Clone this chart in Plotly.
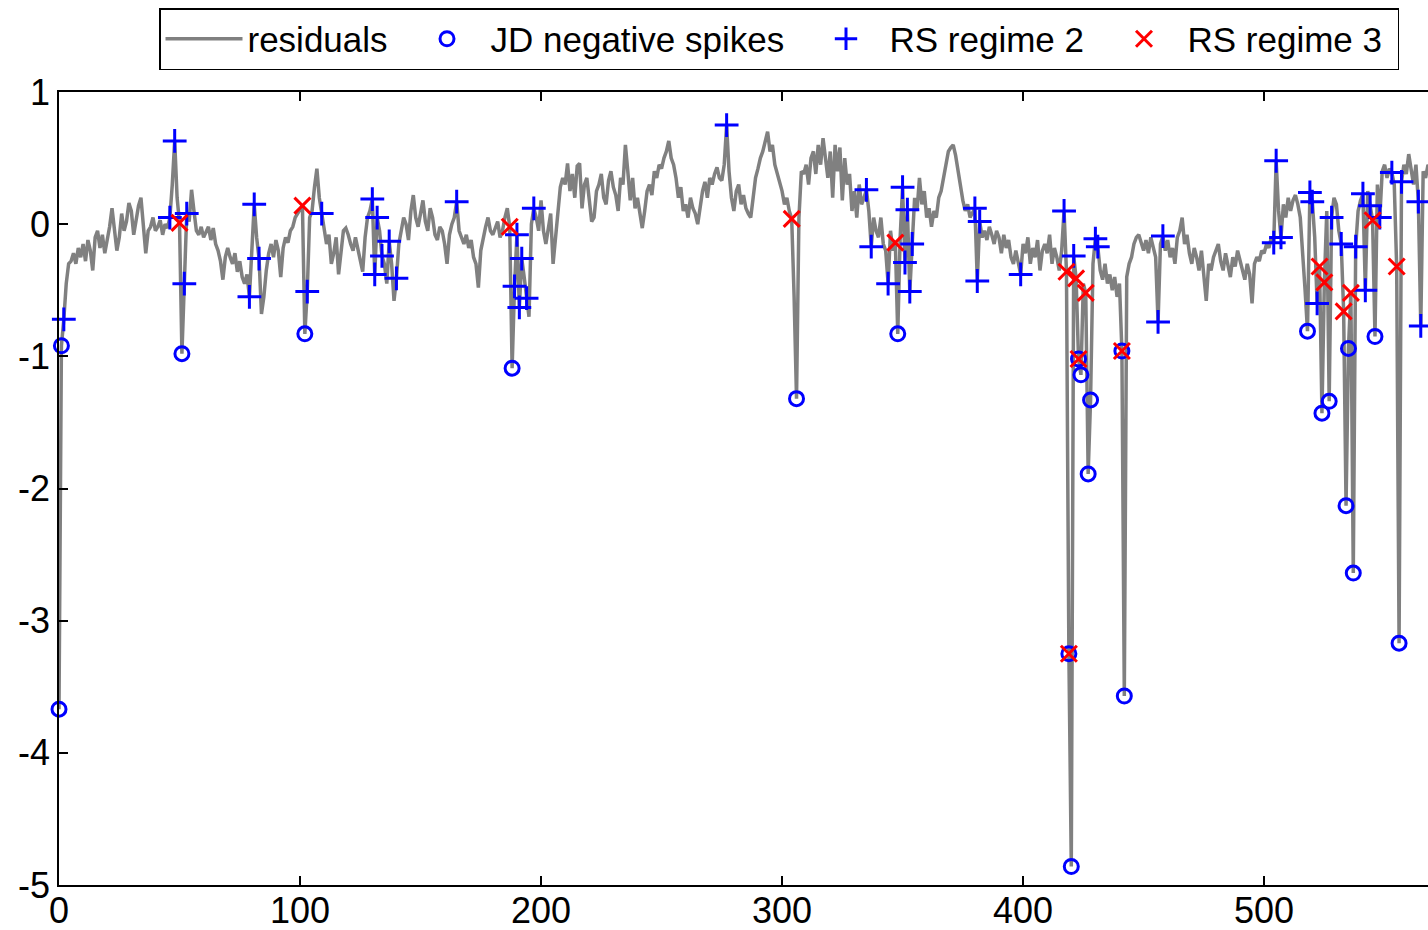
import plotly.graph_objects as go

# residual series (index 0..569)
residuals = [
    -3.67, -0.92, -0.72, -0.45, -0.30, -0.28, -0.22, -0.30, -0.18, -0.25,
    -0.15, -0.28, -0.12, -0.20, -0.35, -0.10, -0.05, -0.18, -0.08, -0.22,
    -0.12, -0.02, 0.12, -0.05, -0.20, -0.10, 0.08, -0.05, 0.02, 0.16,
    0.10, -0.08, 0.05, 0.14, 0.20, 0.02, -0.22, -0.05, -0.02, 0.05,
    -0.05, -0.02, 0.03, -0.08, 0.00, -0.03, 0.05, 0.30, 0.63, 0.20,
    0.01, -0.98, -0.45, 0.08, 0.02, 0.26, 0.10, -0.05, -0.08, -0.02,
    -0.10, -0.06, -0.02, -0.12, -0.03, -0.15, -0.20, -0.28, -0.42, -0.25,
    -0.18, -0.25, -0.30, -0.22, -0.36, -0.28, -0.40, -0.45, -0.38, -0.55,
    -0.20, 0.15, -0.10, -0.26, -0.68, -0.55, -0.35, -0.22, -0.15, -0.25,
    -0.12, -0.20, -0.40, -0.18, -0.10, -0.14, -0.05, -0.02, 0.05, 0.08,
    0.12, 0.14, -0.83, -0.51, 0.05, 0.10, 0.28, 0.42, 0.20, 0.08,
    -0.05, -0.15, -0.08, -0.30, -0.22, -0.10, -0.38, -0.18, -0.05, -0.03,
    -0.08, -0.15, -0.20, -0.10, -0.18, -0.28, -0.36, -0.10, 0.05, 0.10,
    0.19, -0.38, 0.05, -0.05, -0.24, -0.30, -0.45, -0.13, -0.30, -0.58,
    -0.41, -0.15, -0.05, 0.05, 0.00, -0.12, 0.10, 0.22, 0.05, -0.02,
    0.08, 0.18, 0.02, -0.05, 0.12, 0.05, -0.08, -0.12, -0.02, -0.05,
    -0.15, -0.30, -0.08, 0.00, 0.05, 0.17, -0.05, -0.10, -0.15, -0.08,
    -0.18, -0.12, -0.25, -0.30, -0.48, -0.20, -0.10, -0.02, 0.05, -0.05,
    -0.08, -0.02, 0.02, -0.10, -0.05, 0.05, 0.12, -0.02, -1.09, -0.47,
    -0.08, -0.63, -0.26, -0.40, -0.56, -0.70, 0.00, 0.12, 0.05, -0.05,
    0.18, -0.05, -0.15, -0.02, 0.08, -0.30, -0.10, 0.15, 0.28, 0.35,
    0.30, 0.46, 0.25, 0.38, 0.20, 0.44, 0.46, 0.12, 0.30, 0.35,
    0.15, 0.02, 0.05, 0.25, 0.30, 0.38, 0.20, 0.15, 0.33, 0.40,
    0.28, 0.22, 0.10, 0.35, 0.30, 0.60, 0.40, 0.18, 0.35, 0.12,
    0.20, 0.08, -0.03, 0.10, 0.25, 0.30, 0.22, 0.40, 0.35, 0.45,
    0.42, 0.50, 0.55, 0.63, 0.50, 0.45, 0.35, 0.20, 0.28, 0.10,
    0.15, 0.05, 0.20, 0.12, 0.08, 0.00, 0.15, 0.25, 0.32, 0.20,
    0.35, 0.30, 0.38, 0.43, 0.35, 0.33, 0.45, 0.75, 0.40, 0.20,
    0.10, 0.25, 0.30, 0.15, 0.22, 0.12, 0.08, 0.05, 0.20, 0.35,
    0.42, 0.50, 0.55, 0.62, 0.70, 0.55, 0.60, 0.45, 0.38, 0.30,
    0.25, 0.15, 0.20, 0.10, 0.04, -0.55, -1.32, 0.05, 0.40, 0.38,
    0.45, 0.30, 0.50, 0.55, 0.38, 0.60, 0.45, 0.65, 0.52, 0.35,
    0.55, 0.20, 0.60, 0.40, 0.58, 0.18, 0.50, 0.30, 0.38, 0.10,
    0.25, 0.05, 0.30, 0.15, 0.20, 0.26, 0.10, -0.17, 0.05, -0.05,
    -0.10, 0.05, -0.15, -0.20, -0.45, -0.05, -0.20, -0.14, -0.83, -0.10,
    0.28, -0.29, 0.11, -0.51, -0.15, 0.20, 0.10, 0.35, 0.15, 0.25,
    0.05, 0.12, -0.02, 0.10, 0.05, 0.20, 0.25, 0.35, 0.45, 0.55,
    0.58, 0.60, 0.52, 0.40, 0.30, 0.18, 0.10, 0.15, 0.05, 0.08,
    0.12, -0.43, 0.02, -0.10, -0.05, -0.12, -0.02, -0.08, -0.15, -0.05,
    -0.10, -0.22, -0.08, -0.18, -0.12, -0.25, -0.30, -0.20, -0.28, -0.38,
    -0.15, -0.22, -0.10, -0.30, -0.18, -0.25, -0.12, -0.35, -0.20, -0.15,
    -0.22, -0.08, -0.30, -0.18, -0.25, -0.35, -0.20, 0.10, -0.36, -3.25,
    -4.86, -0.24, -0.41, -1.02, -1.14, -0.45, -0.52, -1.89, -1.33, -0.30,
    -0.11, -0.17, -0.35, -0.42, -0.30, -0.45, -0.38, -0.50, -0.40, -0.55,
    -0.45, -0.96, -3.57, -0.40, -0.30, -0.25, -0.15, -0.10, -0.08, -0.15,
    -0.20, -0.12, -0.22, -0.10, -0.18, -0.25, -0.74, -0.15, -0.09, -0.20,
    -0.12, -0.25, -0.18, -0.30, -0.10, -0.05, 0.05, -0.15, -0.08, -0.22,
    -0.30, -0.18, -0.25, -0.35, -0.20, -0.40, -0.58, -0.30, -0.35, -0.25,
    -0.20, -0.15, -0.28, -0.35, -0.22, -0.30, -0.40, -0.25, -0.32, -0.20,
    -0.28, -0.35, -0.42, -0.30, -0.38, -0.60, -0.30, -0.25, -0.28, -0.20,
    -0.22, -0.15, -0.18, -0.10, -0.14, 0.48, 0.10, -0.10, 0.15, 0.05,
    0.20, 0.10, 0.18, 0.22, 0.15, 0.05, -0.20, -0.50, -0.81, 0.24,
    0.17, -0.10, -0.60, -0.32, -1.43, -0.44, 0.10, -1.34, 0.05, 0.20,
    0.15, -0.05, -0.15, -0.66, -2.13, -0.94, -0.52, -2.64, -0.17, 0.10,
    0.18, 0.23, -0.50, 0.25, 0.14, 0.03, -0.85, 0.30, 0.05, 0.40,
    0.45, 0.35, 0.42, 0.39, 0.30, -0.32, -3.17, 0.32, 0.45, 0.38,
    0.53, 0.42, 0.30, 0.45, 0.17, -0.77, 0.40, 0.35, 0.45, 0.38,
]
time_index = list(range(len(residuals)))

# indices of flagged observations
jd_spike_idx = [0, 1, 51, 102, 188, 306, 348, 419, 420, 423, 424, 427, 428,
                441, 442, 518, 524, 527, 534, 535, 537, 546, 556]
rs2_idx = [2, 46, 48, 52, 53, 79, 81, 83, 103, 109, 130, 131, 132, 134, 137,
           140, 165, 189, 190, 191, 192, 194, 197, 277, 335, 337, 344, 350,
           351, 352, 353, 354, 380, 381, 382, 399, 417, 421, 430, 431, 456,
           458, 504, 505, 507, 519, 520, 522, 528, 532, 538, 541, 542, 544,
           548, 553, 557, 564, 565]
rs3_idx = [50, 101, 187, 304, 347, 418, 419, 422, 423, 426, 441, 523, 525,
           533, 536, 545, 555]

x_ticks = [0, 100, 200, 300, 400, 500, 600]
y_ticks = [-5, -4, -3, -2, -1, 0, 1]
y_tick_text = ["-5", "-4", "-3", "-2", "-1", "0", "1"]

FONT = "Liberation Sans, Arial, Helvetica, sans-serif"

fig = go.Figure()
fig.add_trace(go.Scatter(
    x=time_index, y=residuals, mode="lines", name="residuals",
    line=dict(color="rgb(128,128,128)", width=3.5), legendwidth=151,
))
fig.add_trace(go.Scatter(
    x=jd_spike_idx, y=[residuals[i] for i in jd_spike_idx], mode="markers",
    name="JD negative spikes", cliponaxis=False, legendwidth=307,
    marker=dict(symbol="circle-open", size=14, color="rgb(0,0,255)",
                line=dict(width=3, color="rgb(0,0,255)")),
))
fig.add_trace(go.Scatter(
    x=rs2_idx, y=[residuals[i] for i in rs2_idx], mode="markers",
    name="RS regime 2", cliponaxis=False, legendwidth=206,
    marker=dict(symbol="cross-thin", size=17, color="rgb(0,0,255)",
                line=dict(width=3, color="rgb(0,0,255)")),
))
fig.add_trace(go.Scatter(
    x=rs3_idx, y=[residuals[i] for i in rs3_idx], mode="markers",
    name="RS regime 3", cliponaxis=False, legendwidth=205,
    marker=dict(symbol="x-thin", size=16, color="rgb(255,0,0)",
                line=dict(width=3, color="rgb(255,0,0)")),
))

fig.update_layout(
    width=1428, height=930,
    margin=dict(l=59, r=0, t=92, b=45, autoexpand=False),
    paper_bgcolor="white", plot_bgcolor="white",
    font=dict(family=FONT, size=35, color="black"),
    showlegend=True,
    legend=dict(
        orientation="h", x=(159 - 59) / 1369, xanchor="left",
        y=1 + (92 - 8) / 793, yanchor="top",
        bordercolor="black", borderwidth=1.5, bgcolor="white",
        font=dict(family=FONT, size=35, color="black"),
        itemwidth=77, tracegroupgap=0,
    ),
    xaxis=dict(
        range=[0, 568], tickmode="array", tickvals=x_ticks,
        ticks="inside", ticklen=9, tickwidth=1.5, tickcolor="black",
        showline=True, linecolor="black", linewidth=1.5, mirror="ticks",
        showgrid=False, zeroline=False, automargin=False,
        ticklabelstandoff=-7,
        tickfont=dict(family=FONT, size=36, color="black"),
    ),
    yaxis=dict(
        range=[-5, 1], tickmode="array", tickvals=y_ticks,
        ticktext=y_tick_text,
        ticks="inside", ticklen=9, tickwidth=1.5, tickcolor="black",
        showline=True, linecolor="black", linewidth=1.5, mirror=False,
        showgrid=False, zeroline=False, automargin=False,
        tickfont=dict(family=FONT, size=36, color="black"),
    ),
)

fig.write_html("out.html")
